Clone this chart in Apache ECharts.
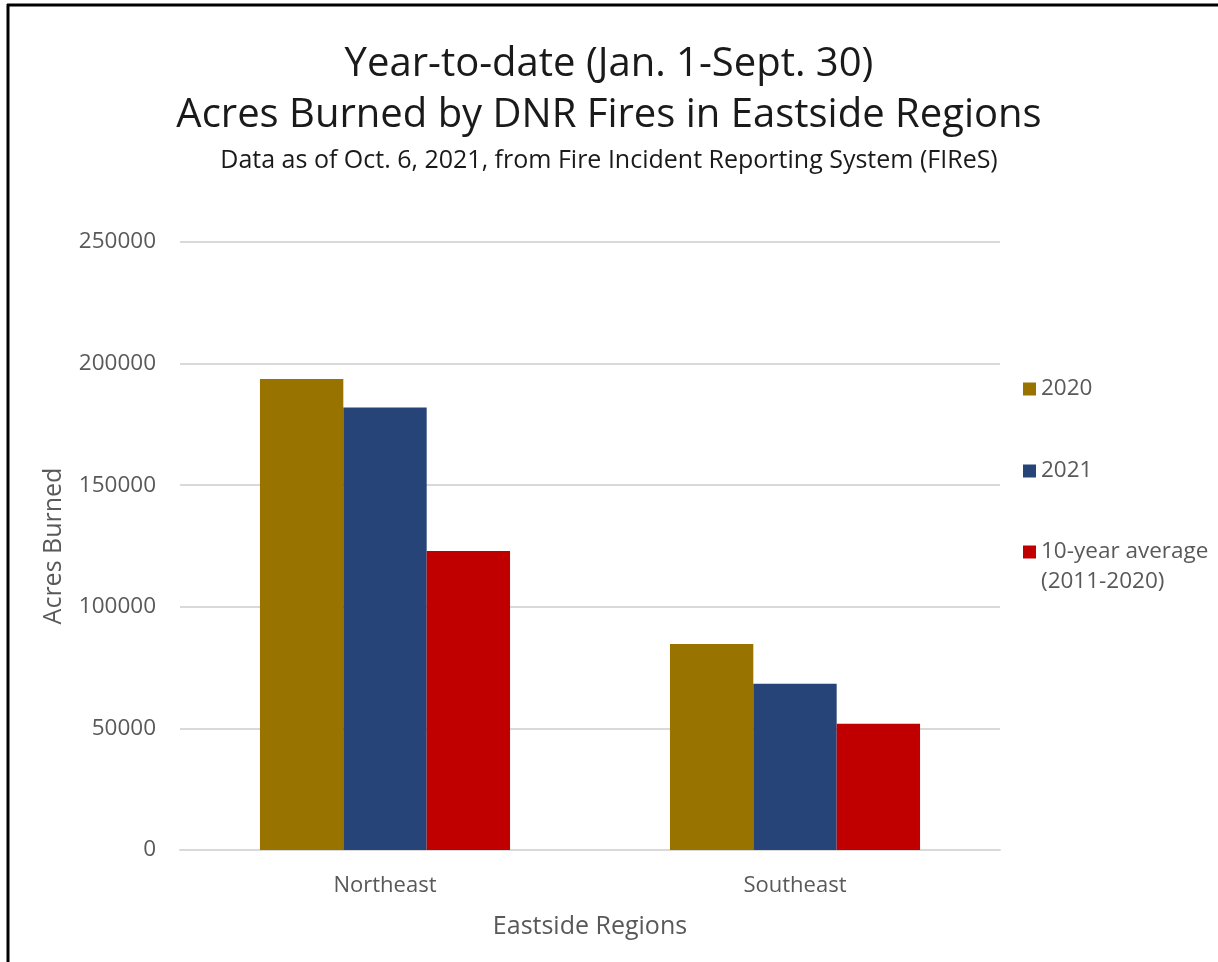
<!DOCTYPE html>
<html>
<head>
<meta charset="utf-8">
<script src="https://cdn.jsdelivr.net/npm/echarts@6/dist/echarts.min.js"></script>
<style>
html,body{margin:0;padding:0;background:#fff;}
#chart{width:1218px;height:962px;}
</style>
</head>
<body>
<div id="chart"></div>
<script>
const categories = ['Northeast', 'Southeast'];
const seriesNames = ['2020', '2021', '10-year average (2011-2020)'];
const values2020 = [193700, 84700];
const values2021 = [182000, 68400];
const valuesAvg = [122900, 51900];
const seriesColors = ['#997300', '#264478', '#C00000'];

const FONT = '"Open Sans", "Noto Sans", sans-serif';
const GRAY = '#595959';

const chart = echarts.init(document.getElementById('chart'), null, {renderer: 'canvas'});

const legendText = {fontFamily: FONT, fontSize: 22.5, color: GRAY, lineHeight: 30};
const legendBase = {orient: 'vertical', left: 1023, padding: 0, itemWidth: 13, itemHeight: 13, icon: 'rect', itemGap: 0, textStyle: legendText};

const option = {
  backgroundColor: '#fff',
  animation: false,
  title: [
    {
      text: 'Year-to-date (Jan. 1-Sept. 30)\nAcres Burned by DNR Fires in Eastside Regions',
      left: 'center', top: 34,
      textStyle: {fontFamily: FONT, fontSize: 40, fontWeight: 'normal', color: '#1a1a1a', lineHeight: 51}
    },
    {
      text: 'Data as of Oct. 6, 2021, from Fire Incident Reporting System (FIReS)',
      left: 'center', top: 143,
      textStyle: {fontFamily: FONT, fontSize: 25, fontWeight: 'normal', color: '#1a1a1a'}
    }
  ],
  legend: [
    Object.assign({}, legendBase, {data: [seriesNames[0]], top: 374}),
    Object.assign({}, legendBase, {data: [seriesNames[1]], top: 456}),
    Object.assign({}, legendBase, {
      data: [seriesNames[2]], top: 507,
      formatter: function (n) { return '\n' + n.replace(' (', '\n('); }
    })
  ],
  grid: {left: 180, right: 218, top: 242, bottom: 112, containLabel: false},
  xAxis: {
    type: 'category',
    data: categories,
    name: 'Eastside Regions',
    nameLocation: 'middle',
    nameGap: 64,
    nameTextStyle: {fontFamily: FONT, fontSize: 25, color: GRAY},
    axisLine: {show: true, lineStyle: {color: '#d9d9d9', width: 2}},
    axisTick: {show: false},
    axisLabel: {fontFamily: FONT, fontSize: 22, color: GRAY, margin: 25}
  },
  yAxis: {
    type: 'value',
    min: 0, max: 250000, interval: 50000,
    name: 'Acres Burned',
    nameLocation: 'middle',
    nameGap: 114,
    nameTextStyle: {fontFamily: FONT, fontSize: 25, color: GRAY},
    axisLine: {show: false},
    axisTick: {show: false},
    axisLabel: {fontFamily: FONT, fontSize: 22.5, color: GRAY, margin: 24, formatter: function (v) { return String(v); }},
    splitLine: {show: true, lineStyle: {color: '#d9d9d9', width: 2}}
  },
  series: [
    {name: seriesNames[0], type: 'bar', data: values2020, itemStyle: {color: seriesColors[0]}, barGap: '0%', barCategoryGap: '39%'},
    {name: seriesNames[1], type: 'bar', data: values2021, itemStyle: {color: seriesColors[1]}, barGap: '0%', barCategoryGap: '39%'},
    {name: seriesNames[2], type: 'bar', data: valuesAvg, itemStyle: {color: seriesColors[2]}, barGap: '0%', barCategoryGap: '39%'}
  ],
  graphic: [
    {type: 'line', shape: {x1: 7, y1: 5, x2: 1218, y2: 5}, style: {stroke: '#000', lineWidth: 3}, silent: true},
    {type: 'line', shape: {x1: 8, y1: 4, x2: 8, y2: 962}, style: {stroke: '#000', lineWidth: 3}, silent: true}
  ]
};
chart.setOption(option);
</script>
</body>
</html>
